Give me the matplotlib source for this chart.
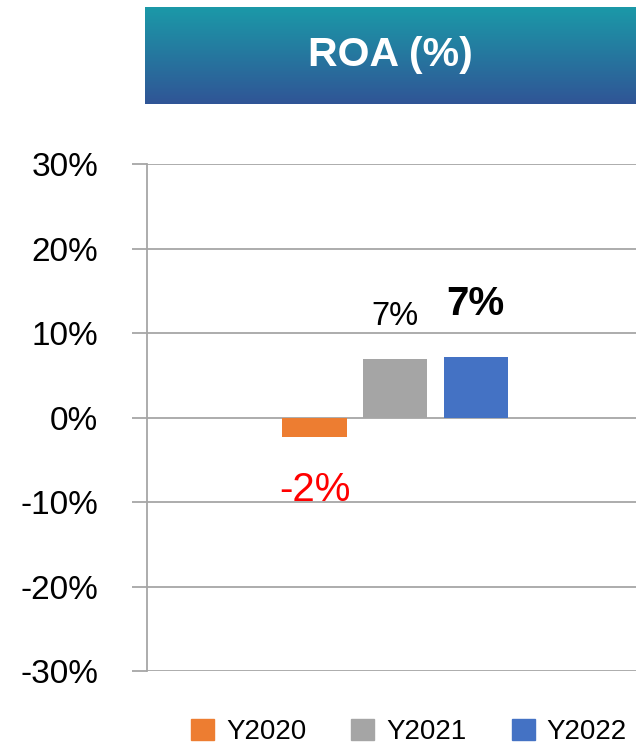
import numpy as np
import matplotlib
matplotlib.use('Agg')
import matplotlib.pyplot as plt
from matplotlib.patches import Patch
from matplotlib.ticker import PercentFormatter

plt.rcParams['font.family'] = ['Liberation Sans', 'DejaVu Sans']
plt.rcParams['axes.unicode_minus'] = False

series = ['Y2020', 'Y2021', 'Y2022']
values = [-0.023, 0.0695, 0.072]
labels = ['-2%', '7%', '7%']
colors = ['#ED7D31', '#A5A5A5', '#4472C4']
yticks = [-0.3, -0.2, -0.1, 0.0, 0.1, 0.2, 0.3]
title = 'ROA (%)'


def main():
    fig = plt.figure(figsize=(6.36, 7.46), dpi=100)

    # title banner with a teal -> blue gradient
    bax = fig.add_axes([145 / 636, 642 / 746, 491 / 636, 97 / 746])
    top = np.array([0x1B, 0x99, 0xA8]) / 255
    bot = np.array([0x30, 0x55, 0x96]) / 255
    t = np.linspace(0, 1, 100)[:, None]
    grad = top * (1 - t) + bot * t
    bax.imshow(grad[:, None, :], aspect='auto', extent=[0, 1, 0, 1])
    bax.set_axis_off()
    bax.text(0.5, 0.51, title, color='white', fontsize=29.5, fontweight='bold',
             ha='center', va='center', transform=bax.transAxes)

    ax = fig.add_axes([146.7 / 636, 75 / 746, 489.3 / 636, 506.7 / 746])
    x = np.arange(len(series)) - 1
    ax.bar(x, values, width=0.8, color=colors, zorder=3)

    ax.set_ylim(-0.3, 0.3)
    ax.set_xlim(-3.085, 2.99)
    ax.set_yticks(yticks)
    ax.yaxis.set_major_formatter(PercentFormatter(1.0, decimals=0))
    ax.tick_params(axis='y', labelsize=24, length=10.8, width=1.3,
                   color='#A6A6A6', pad=24)
    ax.tick_params(axis='x', bottom=False, labelbottom=False)
    ax.yaxis.grid(True, color='#A6A6A6', linewidth=1.3, zorder=0)
    for s in ['top', 'right', 'bottom']:
        ax.spines[s].set_visible(False)
    ax.spines['left'].set_color('#A6A6A6')
    ax.spines['left'].set_linewidth(1.3)

    # value labels
    ax.text(x[0], -0.086, labels[0], color='red', fontsize=29,
            ha='center', va='center')
    ax.text(x[1], 0.12, labels[1], color='black', fontsize=23.5,
            ha='center', va='center')
    ax.text(x[2], 0.135, labels[2], color='black', fontsize=29,
            fontweight='bold', ha='center', va='center')

    handles = [Patch(color=c, label=s) for c, s in zip(colors, series)]
    fig.legend(handles=handles, loc='center', bbox_to_anchor=(409 / 636, 14 / 746),
               ncol=3, frameon=False, fontsize=20, handlelength=0.83,
               handleheight=0.79, handletextpad=0.43, columnspacing=1.62,
               borderpad=0)

    plt.savefig('out.png', dpi=100)


if __name__ == '__main__':
    main()
